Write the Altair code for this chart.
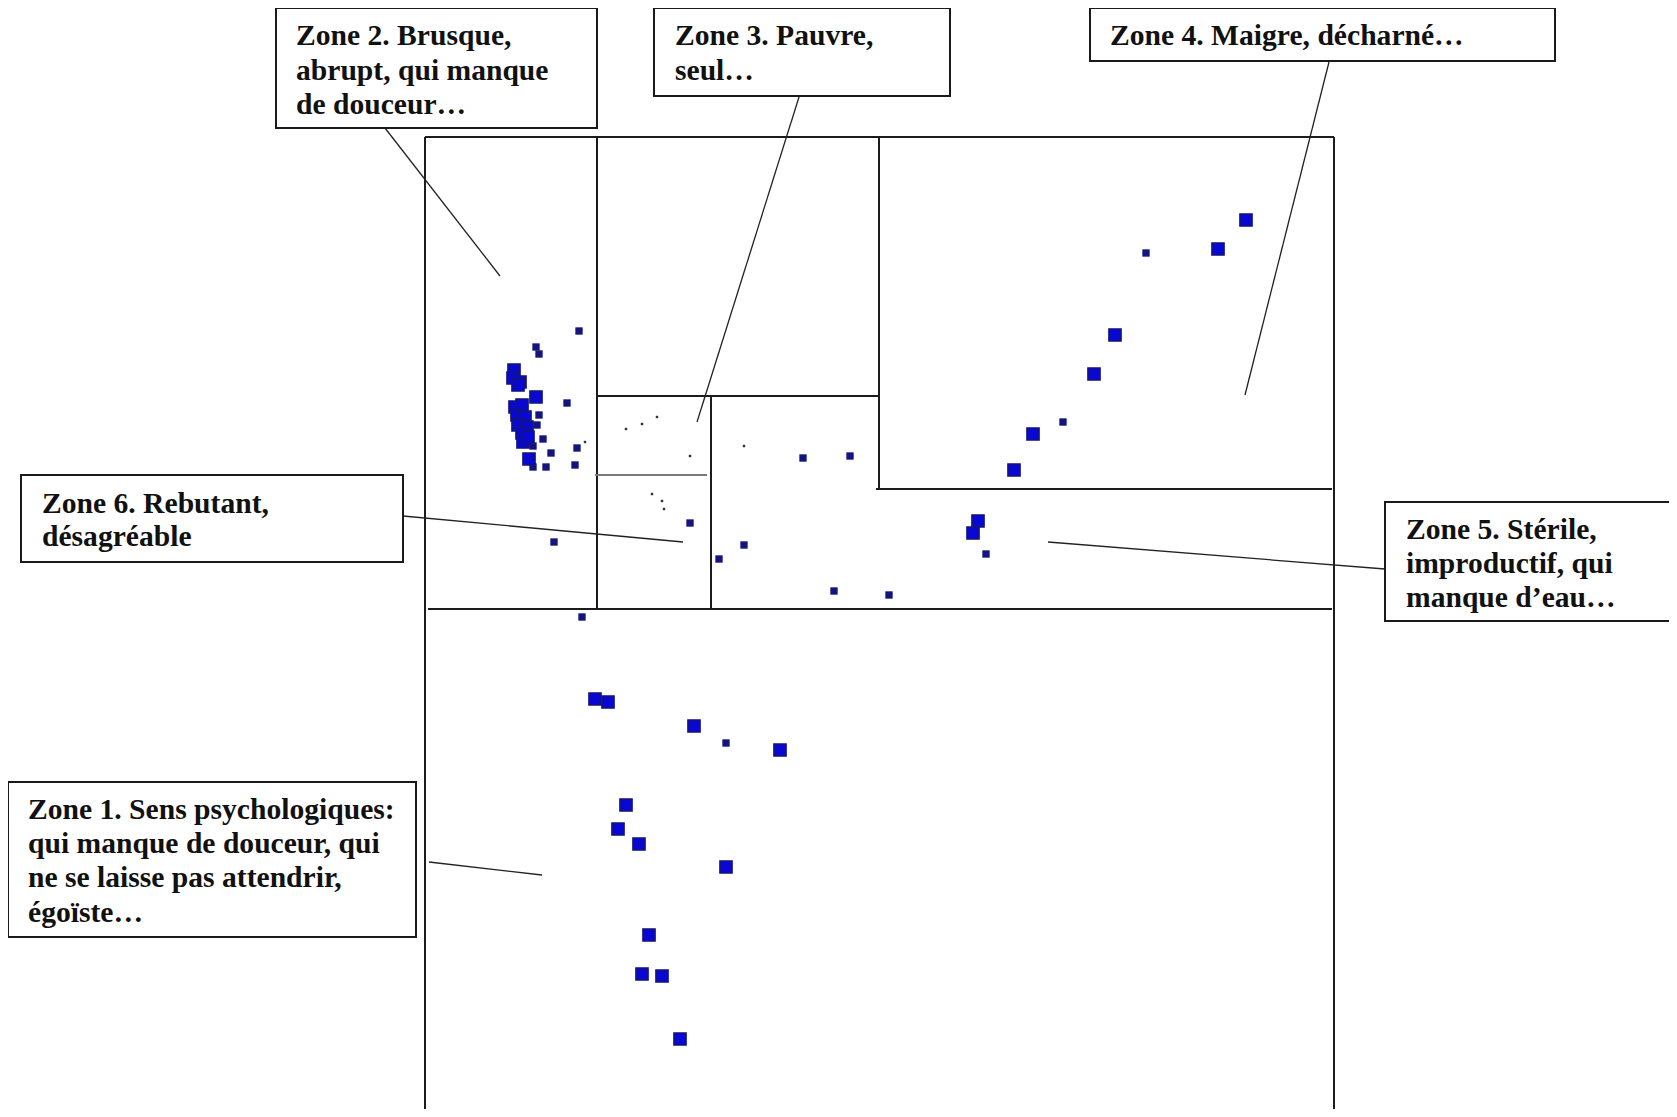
import altair as alt
import pandas as pd

# ---- coordinate system: reference-picture units (x right, y down) ----
X_DOMAIN = [8, 1669]
Y_DOMAIN = [8, 1109]

# ---- data points ----
large_x = [514, 513, 520, 518, 536, 515, 522, 517, 525, 518, 527, 522, 523, 528, 529,
           978, 973,
           1246, 1218, 1115, 1094, 1033, 1014,
           595, 608, 694, 780, 626, 618, 639, 726, 649, 642, 662, 680]
large_y = [370, 378, 382, 385, 397, 407, 405, 415, 417, 425, 427, 433, 442, 437, 459,
           521, 533,
           220, 249, 335, 374, 434, 470,
           699, 702, 726, 750, 805, 829, 844, 867, 935, 974, 976, 1039]

small_x = [579, 536, 539, 567, 539, 537, 543, 533, 551, 577, 533, 546, 575,
           690, 554,
           803, 850, 744, 719, 834, 889, 986,
           1146, 1063,
           582, 726]
small_y = [331, 347, 354, 403, 415, 425, 439, 446, 453, 448, 467, 467, 465,
           523, 542,
           458, 456, 545, 559, 591, 595, 554,
           253, 422,
           617, 743]

tiny_x = [585, 626, 642, 657, 690, 652, 662, 664, 744]
tiny_y = [442, 429, 424, 417, 456, 494, 501, 509, 446]

# ---- zone boundaries ----
zone_x1 = [425, 425, 1334, 597, 597, 711, 879, 876, 428]
zone_y1 = [137, 137, 137, 137, 396, 396, 137, 489, 609]
zone_x2 = [425, 1334, 1334, 597, 879, 711, 879, 1332, 1332]
zone_y2 = [1117, 137, 1117, 609, 396, 609, 489, 489, 609]

split_x1 = [595]
split_y1 = [475]
split_x2 = [707]
split_y2 = [475]

# ---- label boxes ----
box_names = ["Zone 2", "Zone 3", "Zone 4", "Zone 6", "Zone 5", "Zone 1"]
box_x1 = [276, 654, 1090, 21, 1385, 8]
box_x2 = [597, 950, 1555, 403, 1690, 416]
box_y1 = [8, 8, 8, 475, 502, 782]
box_y2 = [128, 96, 61, 562, 621, 937]

# ---- leader lines ----
lead_x1 = [385, 810, 1329, 403, 1048, 429]
lead_y1 = [128, 62, 62, 516, 542, 862]
lead_x2 = [500, 697, 1245, 683, 1385, 542]
lead_y2 = [276, 422, 395, 542, 569, 875]

# ---- label texts ----
label_lines = [
    "Zone 2. Brusque,", "abrupt, qui manque", "de douceur…",
    "Zone 3. Pauvre,", "seul…",
    "Zone 4. Maigre, décharné…",
    "Zone 6. Rebutant,", "désagréable",
    "Zone 5. Stérile,", "improductif, qui", "manque d’eau…",
    "Zone 1. Sens psychologiques:", "qui manque de douceur, qui",
    "ne se laisse pas attendrir,", "égoïste…",
]
label_x = [296, 296, 296, 675, 675, 1110, 42, 42, 1406, 1406, 1406, 28, 28, 28, 28]
label_y = [45, 80, 114, 45, 80, 45, 513, 546, 539, 573, 607, 819, 853, 887, 922]

W, H = 1661, 1101

xs = alt.Scale(domain=X_DOMAIN, nice=False, zero=False)
ys = alt.Scale(domain=Y_DOMAIN, nice=False, zero=False, reverse=True)


def X(f):
    return alt.X(f, type="quantitative", scale=xs, axis=None)


def Y(f):
    return alt.Y(f, type="quantitative", scale=ys, axis=None)


zones = pd.DataFrame({"x1": zone_x1, "y1": zone_y1, "x2": zone_x2, "y2": zone_y2})
splits = pd.DataFrame({"x1": split_x1, "y1": split_y1, "x2": split_x2, "y2": split_y2})
leads = pd.DataFrame({"x1": lead_x1, "y1": lead_y1, "x2": lead_x2, "y2": lead_y2})
boxes = pd.DataFrame({"name": box_names, "x1": box_x1, "x2": box_x2, "y1": box_y1, "y2": box_y2})
labels = pd.DataFrame({"t": label_lines, "x": label_x, "y": label_y})
large = pd.DataFrame({"x": large_x, "y": large_y})
small = pd.DataFrame({"x": small_x, "y": small_y})
tiny = pd.DataFrame({"x": tiny_x, "y": tiny_y})

zone_layer = alt.Chart(zones).mark_rule(color="#1c1c1c", strokeWidth=2).encode(
    x=X("x1"), y=Y("y1"), x2="x2", y2="y2")
split_layer = alt.Chart(splits).mark_rule(color="#7a7a7a", strokeWidth=2).encode(
    x=X("x1"), y=Y("y1"), x2="x2", y2="y2")
lead_layer = alt.Chart(leads).mark_rule(color="#222222", strokeWidth=1.3).encode(
    x=X("x1"), y=Y("y1"), x2="x2", y2="y2")

tiny_layer = alt.Chart(tiny).mark_square(size=6, color="#333344", opacity=1).encode(
    x=X("x"), y=Y("y"))
small_layer = alt.Chart(small).mark_square(size=54, color="#14147e", opacity=1).encode(
    x=X("x"), y=Y("y"))
large_layer = alt.Chart(large).mark_square(
    size=148, fill="#0808d2", stroke="#16167a", strokeWidth=1.5, opacity=1, fillOpacity=1
).encode(x=X("x"), y=Y("y"))

box_layer = alt.Chart(boxes).mark_rect(fill="white", stroke="#1a1a1a", strokeWidth=2).encode(
    x=X("x1"), x2="x2", y=Y("y1"), y2="y2")

text_layer = alt.Chart(labels).mark_text(
    align="left", baseline="alphabetic", font="Liberation Serif", fontWeight="bold",
    fontSize=29.6, color="#111111"
).encode(x=X("x"), y=Y("y"), text="t:N")

chart = alt.layer(
    zone_layer, split_layer, lead_layer, tiny_layer, small_layer, large_layer,
    box_layer, text_layer
).properties(
    width=W, height=H, background="white", padding=0,
    autosize=alt.AutoSizeParams(type="none")
).configure_view(stroke=None)

chart.save("out.html", embed_options={"renderer": "svg", "actions": False})
